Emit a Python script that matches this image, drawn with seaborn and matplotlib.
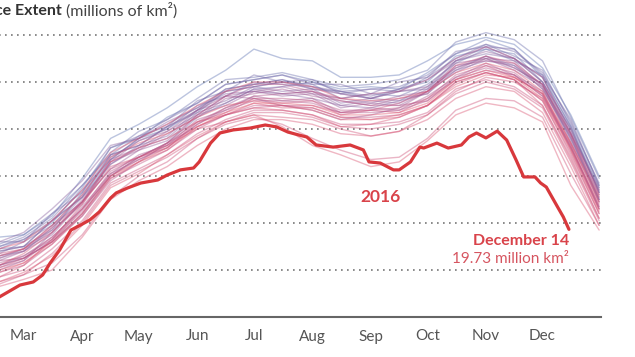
import matplotlib
matplotlib.use("Agg")
import matplotlib.pyplot as plt
from matplotlib.colors import LinearSegmentedColormap, to_hex
import numpy as np
import pandas as pd
import seaborn as sns

# ---------------- data ----------------
sample_days = [0, 15, 31, 46, 59, 74, 90, 105, 120, 135, 151, 166, 181, 196,
               212, 227, 243, 258, 273, 288, 304, 319, 334, 349, 364]

y1979 = [21.9, 20.5, 19.6, 19.4, 19.5, 20.3, 21.9, 23.6, 24.2, 24.9, 25.8, 26.5, 27.4, 27.0, 26.9, 26.2, 26.2, 26.3, 26.9, 27.6, 27.9, 27.6, 26.6, 24.6, 22.0]
y1980 = [21.6, 20.3, 19.2, 19.0, 19.3, 20.0, 21.5, 23.2, 23.6, 24.5, 25.1, 25.9, 26.1, 26.3, 26.0, 25.7, 25.8, 25.7, 26.4, 27.2, 27.8, 27.4, 26.2, 24.1, 21.5]
y1981 = [21.2, 20.0, 19.1, 18.8, 19.0, 20.1, 21.1, 22.7, 23.6, 24.0, 24.8, 25.7, 25.9, 26.1, 25.7, 25.6, 25.3, 25.7, 26.0, 27.1, 27.4, 27.2, 26.0, 23.8, 21.4]
y1982 = [21.7, 20.4, 19.3, 19.1, 19.5, 20.4, 21.6, 23.0, 23.9, 24.4, 25.3, 26.1, 26.2, 26.4, 26.1, 25.8, 25.9, 26.1, 26.5, 27.7, 28.1, 27.8, 26.9, 24.5, 21.9]
y1983 = [21.1, 19.9, 18.8, 18.9, 19.0, 19.7, 21.3, 22.9, 23.3, 24.1, 24.7, 25.6, 25.8, 26.0, 25.9, 25.3, 25.5, 25.4, 25.9, 26.8, 27.4, 26.9, 26.3, 24.1, 21.3]
y1984 = [21.0, 19.6, 18.6, 18.2, 18.5, 19.2, 20.4, 22.0, 22.8, 23.4, 24.5, 25.1, 25.7, 25.8, 26.0, 25.6, 25.7, 25.8, 26.3, 27.2, 27.6, 27.3, 26.4, 24.3, 21.6]
y1985 = [21.5, 20.2, 19.2, 19.0, 19.4, 20.2, 21.6, 22.9, 23.7, 24.1, 25.2, 25.6, 26.3, 26.0, 26.1, 25.5, 25.7, 25.6, 26.2, 27.0, 27.6, 27.1, 26.5, 24.2, 21.7]
y1986 = [21.6, 20.1, 19.3, 19.2, 19.2, 20.4, 21.3, 23.2, 23.7, 24.4, 25.1, 25.9, 26.1, 26.3, 25.9, 25.9, 25.5, 26.0, 26.2, 27.3, 27.5, 27.4, 26.3, 24.4, 21.6]
y1987 = [21.2, 19.9, 19.0, 18.7, 19.2, 19.9, 21.2, 22.8, 23.5, 24.0, 25.0, 25.4, 26.0, 25.9, 25.8, 25.5, 25.3, 25.6, 25.7, 26.9, 27.2, 27.0, 26.0, 24.0, 21.3]
y1988 = [21.4, 20.1, 19.0, 18.9, 19.3, 20.1, 21.4, 22.7, 23.6, 24.2, 24.9, 25.7, 25.9, 26.1, 25.8, 25.6, 25.4, 25.7, 26.1, 26.9, 27.5, 27.0, 26.2, 23.9, 21.5]
y1989 = [21.0, 19.7, 18.8, 18.6, 18.8, 19.8, 21.1, 22.5, 23.3, 23.7, 24.8, 25.2, 25.8, 25.6, 25.7, 25.1, 25.3, 25.2, 25.8, 26.6, 27.1, 26.7, 25.9, 23.6, 21.1]
y1990 = [21.6, 20.2, 19.3, 19.2, 19.6, 20.6, 21.8, 23.3, 23.6, 24.3, 24.9, 25.5, 25.6, 25.5, 25.3, 25.0, 24.9, 25.2, 25.5, 26.5, 26.9, 26.7, 25.7, 23.6, 21.0]
y1991 = [21.0, 19.6, 18.7, 18.5, 18.9, 19.6, 20.9, 22.5, 23.2, 23.6, 24.7, 25.1, 25.7, 25.5, 25.6, 25.0, 25.2, 25.1, 25.7, 26.5, 27.1, 26.6, 25.9, 23.5, 21.0]
y1992 = [21.3, 19.9, 19.0, 18.8, 19.0, 20.1, 21.1, 22.9, 23.3, 24.1, 24.8, 25.6, 25.8, 26.0, 25.7, 25.5, 25.3, 25.6, 25.8, 26.9, 27.3, 27.0, 26.0, 24.0, 21.3]
y1993 = [20.9, 19.5, 18.7, 18.4, 18.8, 19.5, 20.9, 22.3, 23.1, 23.5, 24.6, 25.0, 25.6, 25.4, 25.5, 24.9, 25.1, 25.0, 25.6, 26.4, 27.0, 26.5, 25.8, 23.4, 20.9]
y1994 = [21.1, 19.7, 18.8, 18.6, 18.9, 19.9, 20.9, 22.7, 23.2, 23.9, 24.6, 25.4, 25.6, 25.8, 25.5, 25.3, 25.1, 25.4, 25.6, 26.8, 27.0, 26.9, 25.8, 23.8, 21.0]
y1995 = [20.5, 19.0, 18.2, 18.0, 18.4, 19.6, 21.0, 22.6, 23.5, 23.9, 24.8, 25.4, 25.3, 25.0, 24.8, 24.4, 24.6, 24.9, 25.6, 26.6, 27.0, 26.6, 25.9, 23.7, 21.2]
y1996 = [21.0, 19.6, 18.6, 18.5, 18.8, 19.7, 20.8, 22.6, 23.1, 23.8, 24.5, 25.3, 25.5, 25.7, 25.4, 25.2, 25.0, 25.3, 25.5, 26.7, 26.9, 26.8, 25.7, 23.7, 20.9]
y1997 = [20.7, 19.3, 18.5, 18.2, 18.6, 19.3, 20.7, 22.1, 22.9, 23.3, 24.4, 24.8, 25.4, 25.2, 25.3, 24.7, 24.9, 24.8, 25.4, 26.2, 26.8, 26.3, 25.6, 23.2, 20.7]
y1998 = [20.9, 19.4, 18.5, 18.3, 18.6, 19.4, 20.6, 22.0, 22.7, 23.2, 24.2, 24.9, 25.4, 25.5, 25.6, 25.3, 25.5, 25.6, 26.1, 27.0, 27.5, 27.0, 26.2, 23.8, 21.4]
y1999 = [20.6, 19.2, 18.3, 18.1, 18.4, 19.3, 20.5, 22.1, 22.7, 23.3, 24.2, 24.8, 25.2, 25.2, 25.1, 24.7, 24.7, 24.8, 25.2, 26.2, 26.6, 26.3, 25.4, 23.2, 20.6]
y2000 = [21.2, 19.8, 18.8, 18.4, 18.5, 19.2, 20.3, 21.8, 22.6, 23.4, 24.6, 25.4, 25.9, 25.9, 25.6, 25.2, 25.0, 25.0, 25.2, 26.1, 26.5, 26.3, 25.4, 23.3, 20.6]
y2001 = [20.7, 19.3, 18.4, 18.2, 18.5, 19.4, 20.6, 22.2, 22.8, 23.4, 24.3, 24.9, 25.3, 25.3, 25.2, 24.8, 24.8, 24.9, 25.3, 26.3, 26.7, 26.4, 25.5, 23.3, 20.7]
y2002 = [20.4, 19.0, 18.1, 17.9, 18.2, 19.1, 20.3, 21.9, 22.5, 23.1, 24.0, 24.6, 25.0, 25.0, 24.9, 24.5, 24.5, 24.6, 25.0, 26.0, 26.4, 26.1, 25.2, 23.0, 20.4]
y2003 = [21.1, 19.8, 18.9, 18.7, 18.9, 19.8, 20.9, 22.3, 22.8, 23.4, 24.1, 24.6, 24.9, 25.0, 25.0, 24.7, 24.8, 25.1, 25.6, 26.7, 27.1, 26.8, 25.9, 23.8, 21.2]
y2004 = [20.6, 19.2, 18.3, 18.1, 18.5, 19.2, 20.6, 22.0, 22.8, 23.2, 24.3, 24.7, 25.3, 25.1, 25.2, 24.6, 24.8, 24.7, 25.3, 26.1, 26.7, 26.2, 25.5, 23.1, 20.6]
y2005 = [20.2, 18.8, 17.9, 17.7, 18.0, 18.9, 20.1, 21.7, 22.3, 22.9, 23.8, 24.4, 24.8, 24.8, 24.6, 24.2, 24.2, 24.3, 24.7, 25.7, 26.1, 25.8, 25.0, 22.8, 20.2]
y2006 = [20.1, 18.7, 17.8, 17.5, 17.8, 18.3, 19.5, 21.1, 22.0, 22.6, 23.6, 24.3, 24.7, 24.7, 24.5, 24.1, 24.0, 24.2, 24.6, 25.5, 26.0, 25.7, 24.9, 22.6, 20.1]
y2007 = [20.0, 18.6, 17.7, 17.4, 17.8, 18.7, 20.0, 21.6, 22.2, 22.8, 23.6, 24.2, 24.5, 24.2, 23.6, 23.1, 22.7, 22.8, 23.6, 24.8, 25.3, 25.2, 24.5, 22.1, 19.9]
y2008 = [20.0, 18.6, 17.8, 17.7, 18.2, 19.3, 20.8, 22.4, 22.8, 23.3, 24.0, 24.3, 24.6, 24.5, 24.4, 24.0, 23.7, 23.9, 24.6, 25.6, 26.2, 26.0, 25.3, 23.2, 20.8]
y2009 = [20.4, 19.0, 18.1, 17.9, 18.3, 19.1, 20.4, 21.9, 22.6, 23.1, 24.1, 24.6, 25.1, 24.9, 24.9, 24.5, 24.4, 24.5, 25.0, 25.9, 26.4, 26.1, 25.2, 22.9, 20.4]
y2010 = [20.7, 19.4, 18.4, 18.2, 18.7, 19.6, 20.9, 22.6, 23.2, 23.6, 24.3, 24.6, 24.9, 24.8, 24.6, 24.1, 24.2, 24.5, 25.0, 26.0, 26.4, 26.1, 25.0, 22.7, 20.2]
y2011 = [20.0, 18.6, 17.7, 17.3, 17.6, 18.0, 19.4, 21.0, 21.8, 22.4, 23.3, 24.0, 24.4, 24.4, 24.2, 23.8, 23.7, 23.9, 24.4, 25.3, 25.8, 25.6, 24.7, 22.4, 19.9]
y2012 = [20.0, 18.5, 17.6, 17.5, 17.9, 18.6, 19.9, 21.5, 22.1, 22.9, 23.7, 24.3, 24.6, 24.1, 23.3, 22.9, 22.4, 22.6, 23.5, 24.6, 25.1, 24.9, 24.3, 21.6, 19.7]
y2013 = [20.9, 19.5, 18.7, 18.6, 18.9, 19.9, 21.2, 22.8, 23.4, 23.8, 24.5, 25.0, 25.2, 25.0, 24.8, 24.4, 24.4, 24.6, 25.0, 25.8, 26.3, 26.2, 25.5, 23.4, 20.9]
y2014 = [21.2, 19.9, 19.0, 18.9, 19.2, 20.1, 21.4, 23.0, 23.6, 24.2, 25.0, 25.6, 26.0, 26.0, 25.8, 25.3, 25.2, 25.3, 25.6, 26.4, 26.8, 26.5, 25.6, 23.4, 21.1]
y2015 = [20.5, 19.1, 18.2, 18.0, 18.3, 19.2, 20.4, 22.0, 22.6, 23.2, 24.1, 24.7, 25.1, 25.1, 25.0, 24.6, 24.6, 24.7, 25.1, 26.1, 26.5, 26.2, 25.3, 23.1, 20.5]

past_years = {
    1979: y1979, 1980: y1980, 1981: y1981, 1982: y1982, 1983: y1983, 1984: y1984,
    1985: y1985, 1986: y1986, 1987: y1987, 1988: y1988, 1989: y1989, 1990: y1990,
    1991: y1991, 1992: y1992, 1993: y1993, 1994: y1994, 1995: y1995, 1996: y1996,
    1997: y1997, 1998: y1998, 1999: y1999, 2000: y2000, 2001: y2001, 2002: y2002,
    2003: y2003, 2004: y2004, 2005: y2005, 2006: y2006, 2007: y2007, 2008: y2008,
    2009: y2009, 2010: y2010, 2011: y2011, 2012: y2012, 2013: y2013, 2014: y2014,
    2015: y2015,
}

days_2016 = [0, 15, 31, 46, 57, 64, 69, 73, 78, 84, 89, 94, 99, 105, 108, 114, 121,
             130, 135, 142, 149, 152, 158, 163, 170, 179, 187, 193, 199, 205, 209,
             214, 223, 232, 239, 242, 248, 255, 258, 264, 269, 271, 278, 284, 291,
             295, 299, 304, 310, 315, 320, 324, 330, 333, 336, 342, 345, 348]
ext_2016 = [18.9, 17.9, 17.2, 16.85, 17.36, 17.49, 17.79, 18.30, 18.85, 19.70, 19.91,
            20.13, 20.47, 21.06, 21.28, 21.49, 21.70, 21.83, 22.04, 22.26, 22.34, 22.60,
            23.40, 23.83, 23.96, 24.04, 24.17, 24.09, 23.87, 23.74, 23.66, 23.32, 23.23,
            23.32, 23.11, 22.60, 22.55, 22.26, 22.26, 22.60, 23.23, 23.19, 23.40, 23.19,
            23.32, 23.66, 23.83, 23.62, 23.91, 23.53, 22.68, 21.96, 21.96, 21.70, 21.53,
            20.68, 20.26, 19.73]

month_days = [59, 90, 120, 151, 181, 212, 243, 273, 304, 334]
month_labels = ["Mar", "Apr", "May", "Jun", "Jul", "Aug", "Sep", "Oct", "Nov", "Dec"]
grid_values = [18, 20, 22, 24, 26, 28]

# ---------------- build frame ----------------
rows = []
for yr, vals in past_years.items():
    for d, v in zip(sample_days, vals):
        rows.append((yr, d, v))
df = pd.DataFrame(rows, columns=["year", "day", "extent"])
df16 = pd.DataFrame({"day": days_2016, "extent": ext_2016})

cmap = LinearSegmentedColormap.from_list(
    "yrs", ["#5f74b3", "#8a5c9c", "#c44d7c", "#e2566e"])
years = list(past_years.keys())
palette = {yr: to_hex(cmap(i / (len(years) - 1))) for i, yr in enumerate(years)}

# ---------------- plot ----------------
sns.set_theme(style="white")
plt.rcParams["font.family"] = ["Lato", "DejaVu Sans"]

fig = plt.figure(figsize=(6.35, 3.57), dpi=100)
ax = fig.add_axes([-87.5 / 635, 40 / 357, 688.5 / 635, 296.1 / 357])
ax.set_facecolor("white")

sns.lineplot(data=df, x="day", y="extent", hue="year", palette=palette,
             linewidth=1.0, alpha=0.42, legend=False, estimator=None,
             sort=False, ax=ax)
sns.lineplot(data=df16, x="day", y="extent", color="#d8383c", linewidth=2.3,
             estimator=None, sort=False, ax=ax)

ax.set_xlim(0, 365)
ax.set_ylim(16, 28.6)
ax.set_yticks(grid_values)
ax.yaxis.grid(True, linestyle=(0, (1, 2.6)), color="#777777", linewidth=1.2)
ax.xaxis.grid(False)
ax.tick_params(axis="y", length=0, labelleft=False)
ax.set_xticks(month_days)
ax.set_xticklabels(month_labels)
ax.tick_params(axis="x", direction="out", length=4, width=1, color="#666666",
               pad=5, labelsize=11, labelcolor="#555555")
ax.set_xlabel("")
ax.set_ylabel("")
for s in ["top", "left", "right"]:
    ax.spines[s].set_visible(False)
ax.spines["bottom"].set_color("#666666")
ax.spines["bottom"].set_linewidth(1.5)

# annotations
fig.text(380 / 635, 1 - 197 / 357, "2016", ha="center", va="center",
         fontsize=12.5, fontweight="bold", color="#d9434a")
fig.text(569 / 635, 1 - 241 / 357, "December 14", ha="right", va="center",
         fontsize=11.5, fontweight="bold", color="#d9434a")
fig.text(569 / 635, 1 - 259 / 357, "19.73 million km²", ha="right", va="center",
         fontsize=11, color="#d65560")

fig.text(62 / 635, 1 - 11 / 357, "Sea Ice Extent", ha="right", va="center",
         fontsize=11.5, fontweight="bold", color="#333333")
fig.text(66 / 635, 1 - 11 / 357, "(millions of km²)", ha="left", va="center",
         fontsize=11.5, color="#444444")

fig.savefig("out.png", dpi=100)
